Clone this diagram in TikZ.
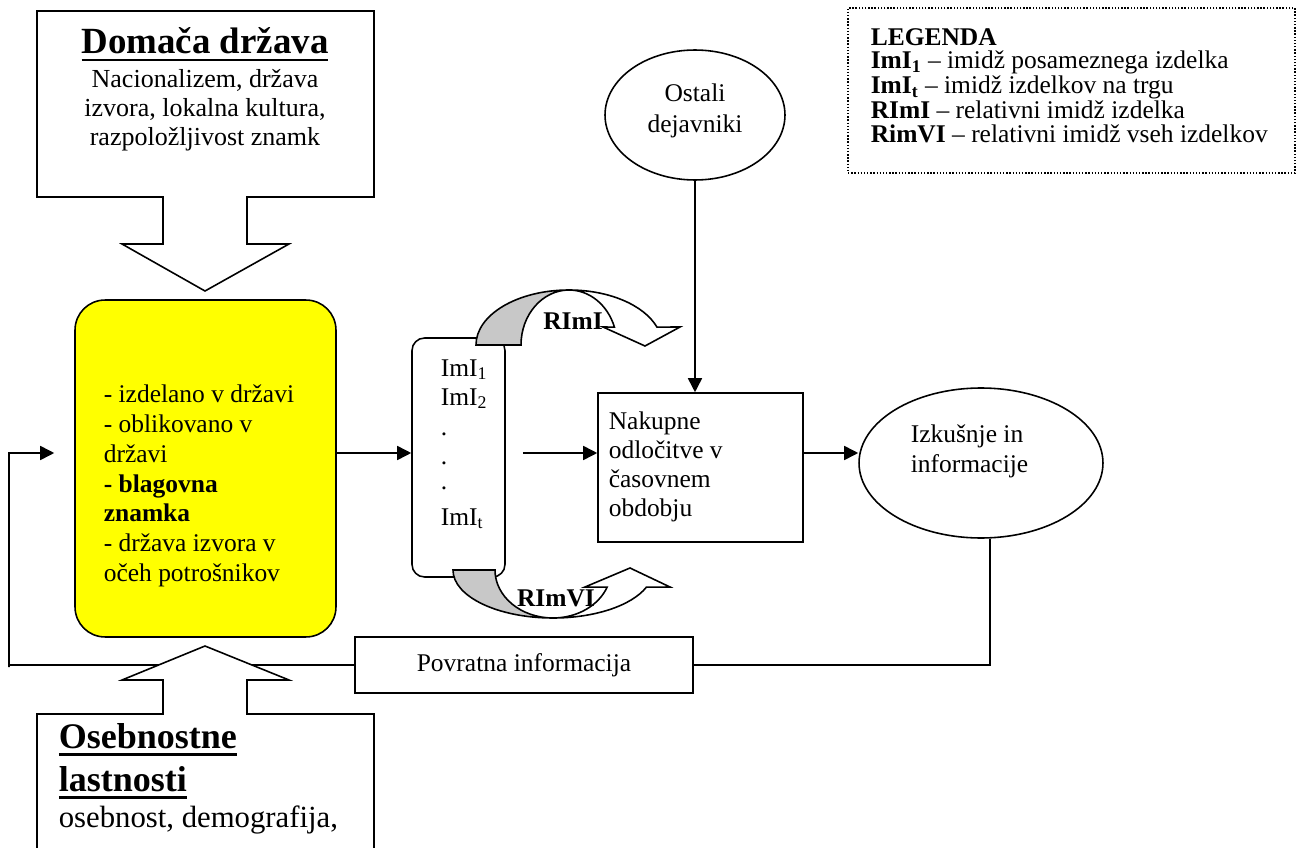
\documentclass[tikz,border=0pt]{standalone}
\usepackage{fontspec}
\setmainfont{Liberation Serif}
\usetikzlibrary{arrows.meta, positioning, shapes.geometric}
\definecolor{boxyellow}{RGB}{255,255,0}
\definecolor{undershade}{RGB}{200,200,200}
\newsavebox{\ulbox}
\newcommand{\thickul}[1]{\sbox{\ulbox}{#1}\rlap{\vrule height -2.6pt depth 4.2pt width \wd\ulbox}\usebox{\ulbox}}

\begin{document}
\begin{tikzpicture}[x=0.02cm, y=0.02cm, line width=0.9pt,
                    >={Triangle[length=8pt, width=8pt]},
                    txt/.style = {inner sep=0pt, font=\fontsize{14.5}{17}\selectfont},
                    hd/.style = {inner sep=0pt, font=\fontsize{21}{24}\selectfont\bfseries},
                    plainbox/.style = {draw, rectangle, inner sep=0pt},
                    yelbox/.style = {draw, rectangle, rounded corners=0.6cm, fill=boxyellow,
                                     minimum width=5.22cm, minimum height=6.74cm},
                    imbox/.style = {draw, rectangle, rounded corners=0.25cm, fill=white,
                                    minimum width=1.86cm, minimum height=4.78cm},
                    oval/.style = {draw, ellipse, inner sep=0pt, fill=white},
                    callout/.style = {draw, fill=white, line join=miter},
                    underside/.style = {draw, fill=undershade},
                    topside/.style = {draw, fill=white}
                   ]

    \useasboundingbox (0,0) rectangle (1299,-848);
    \clip (0,0) rectangle (1299,-848);

    \coordinate (rowy) at (0,-453);
    \coordinate (fbcorner) at (9,-667);

    % top callout
    \draw[callout] (37,-11) -- (374,-11) -- (374,-197) -- (247,-197) -- (247,-244)
        -- (289,-244) -- (205,-291) -- (122,-244) -- (163,-244) -- (163,-197)
        -- (37,-197) -- cycle;
    \node[hd, anchor=base] (domhead) at (205,-54) {\thickul{Domača država}};
    \node[txt, anchor=north, align=center, font=\fontsize{14.8}{16.4}\selectfont]
        (dombody) at (205,-69) {Nacionalizem, država\\izvora, lokalna kultura,\\razpoložljivost znamk};

    % yellow box
    \node[yelbox] (origin) at (205.5,-468.5) {};
    \node[txt, anchor=north west, align=left] (origtxt) at (103,-384)
        {- izdelano v državi\\- oblikovano v\\državi\\\textbf{- blagovna}\\\textbf{znamka}\\- država izvora v\\očeh potrošnikov};

    % image box
    \node[imbox] (imibox) at (458.5,-457.5) {};
    \foreach \lab/\yy [count=\i] in {ImI\textsubscript{1}/376, ImI\textsubscript{2}/405, ./435, ./464, ./489, ImI\textsubscript{t}/525}
        \node[txt, anchor=base west] (imi\i) at (440,-\yy) {\lab};

    % curved arrows
    \draw[underside] (476,-345) arc (180:90:93 and 55) arc (90:180:48 and 55) -- cycle;
    \draw[topside] (569,-290) arc (90:19:93 and 55) -- (680,-327) -- (645,-346)
        -- (603,-327) -- (614.4,-327.1) arc (19:90:48 and 55) -- cycle;
    \node[txt, font=\fontsize{14.5}{17}\selectfont\bfseries] (rimi) at (573,-321) {RImI};

    \draw[underside] (453,-570) arc (180:270:100 and 48) arc (270:180:58 and 48) -- cycle;
    \draw[topside] (553,-618) arc (270:339:100 and 48) -- (670,-587) -- (630,-568)
        -- (585,-587) -- (607.1,-587.2) arc (339:270:58 and 48) -- cycle;
    \node[txt, font=\fontsize{14.5}{17}\selectfont\bfseries] (rimvi) at (556,-598) {RImVI};

    % other factors
    \node[oval, minimum width=3.6cm, minimum height=2.6cm] (ostali) at (695,-115) {};
    \node[txt, anchor=north, align=center, font=\fontsize{14.5}{17.6}\selectfont]
        (ostalitxt) at (695,-83) {Ostali\\dejavniki};

    % purchase decisions
    \node[plainbox, minimum width=4.1cm, minimum height=2.98cm] (nakup) at (700.5,-467.5) {};
    \node[txt, anchor=north west, align=left, font=\fontsize{14.5}{16.5}\selectfont]
        (nakuptxt) at (608,-411) {Nakupne\\odločitve v\\časovnem\\obdobju};

    % experience
    \node[oval, minimum width=4.88cm, minimum height=3cm] (izkus) at (981,-463) {};
    \node[txt, anchor=north west, align=left, font=\fontsize{14.5}{17}\selectfont]
        (izkustxt) at (910,-424) {Izkušnje in\\informacije};

    % feedback
    \node[plainbox, minimum width=6.76cm, minimum height=1.12cm, txt] (povrat) at (524,-665)
        {Povratna informacija};

    % connectors
    \draw[->] (origin.east |- rowy) -- (imibox.west |- rowy);
    \draw[->] ([xshift=0.34cm]imibox.east |- rowy) -- (nakup.west |- rowy);
    \draw[->] (nakup.east |- rowy) -- (izkus.west |- rowy);
    \draw[->] (ostali.south) -- (ostali.south |- nakup.north);
    \draw ([xshift=0.18cm]izkus.south) |- (povrat.east);
    \draw[->, shorten >=0.4cm] (povrat.west) -| (fbcorner) |- (origin.west |- rowy);

    % bottom callout
    \draw[callout] (205,-646) -- (289,-680) -- (247,-680) -- (247,-714) -- (374,-714)
        -- (374,-900) -- (37,-900) -- (37,-714) -- (163,-714) -- (163,-680)
        -- (122,-680) -- cycle;
    \node[hd, anchor=north west, align=left, font=\fontsize{20.5}{24.4}\selectfont\bfseries]
        (osebhead) at (58,-723) {\thickul{Osebnostne}\\\thickul{lastnosti}};
    \node[txt, anchor=base west, font=\fontsize{17.5}{20}\selectfont] (osebbody) at (58,-827)
        {osebnost, demografija,};

    % legend
    \node[draw, densely dotted, line width=0.8pt, minimum width=8.94cm, minimum height=3.3cm]
        (legend) at (1071.5,-90.5) {};
    \node[txt, anchor=north west, align=left, font=\fontsize{14.5}{13.2}\selectfont]
        (legtxt) at (870,-28)
        {\textbf{LEGENDA}\\
         \textbf{ImI\textsubscript{1}} – imidž posameznega izdelka\\
         \textbf{ImI\textsubscript{t}} – imidž izdelkov na trgu\\
         \textbf{RImI} – relativni imidž izdelka\\
         \textbf{RimVI} – relativni imidž vseh izdelkov};

\end{tikzpicture}
\end{document}
